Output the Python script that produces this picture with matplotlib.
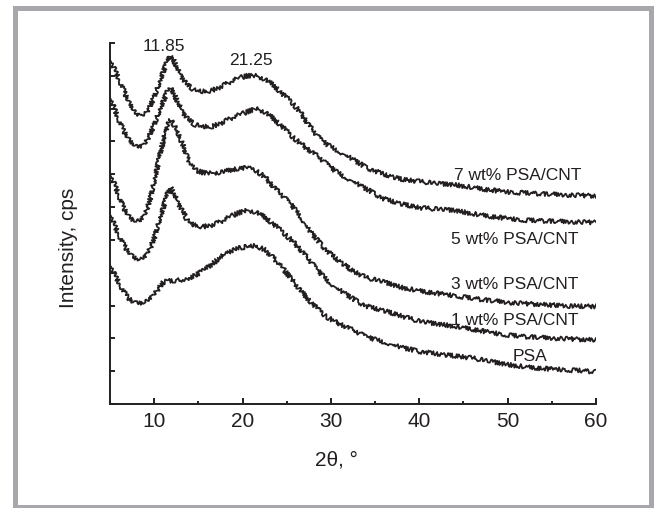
import matplotlib
matplotlib.use("Agg")
import matplotlib.pyplot as plt
from matplotlib.patches import Rectangle
from matplotlib.ticker import MultipleLocator

plt.rcParams['font.family'] = ['Liberation Sans', 'DejaVu Sans']

# ---- data (y in arbitrary offset units) ----
two_theta = [5, 5.5, 6, 6.5, 7, 7.5, 8, 8.5, 9, 9.5, 10, 10.5, 11, 11.5, 11.85,
             12.25, 12.75, 13.25, 13.75, 14.5, 15.5, 16.5, 17.5, 18.5, 19.5,
             20.5, 21.5, 22.5, 23.5, 24.5, 25.5, 26.5, 27.5, 28.5, 29.5, 30.5,
             31.5, 32.5, 34, 36, 38, 40, 42, 44, 46, 48, 50, 52, 54, 56, 58, 60]

psa_7cnt = [10.5, 10.2, 9.9, 9.6, 9.25, 9.0, 8.82, 8.78, 8.85, 9.05, 9.35, 9.7,
            10.1, 10.45, 10.6, 10.45, 10.15, 9.9, 9.72, 9.57, 9.52, 9.55, 9.66,
            9.8, 9.93, 10.0, 10.0, 9.9, 9.72, 9.45, 9.22, 8.9, 8.5, 8.15, 7.92,
            7.75, 7.6, 7.45, 7.2, 7.0, 6.85, 6.78, 6.72, 6.68, 6.6, 6.52, 6.46,
            6.43, 6.4, 6.38, 6.36, 6.34]

psa_5cnt = [9.35, 9.0, 8.65, 8.35, 8.1, 7.92, 7.84, 7.84, 7.95, 8.2, 8.5, 8.85,
            9.2, 9.52, 9.62, 9.45, 9.15, 8.88, 8.7, 8.52, 8.45, 8.45, 8.55, 8.68,
            8.8, 8.9, 9.0, 8.9, 8.7, 8.45, 8.18, 7.95, 7.74, 7.55, 7.32, 7.1,
            6.92, 6.78, 6.55, 6.25, 6.1, 5.98, 5.94, 5.9, 5.8, 5.72, 5.65, 5.6,
            5.58, 5.56, 5.55, 5.53]

psa_3cnt = [7.0, 6.7, 6.35, 6.0, 5.75, 5.6, 5.56, 5.6, 5.8, 6.2, 6.75, 7.4,
            8.0, 8.5, 8.65, 8.5, 8.2, 7.9, 7.5, 7.15, 7.05, 7.03, 7.06, 7.12,
            7.18, 7.2, 7.12, 6.92, 6.62, 6.35, 6.08, 5.72, 5.3, 4.98, 4.68,
            4.45, 4.25, 4.05, 3.85, 3.72, 3.55, 3.45, 3.37, 3.3, 3.22, 3.15,
            3.1, 3.06, 3.03, 3.0, 2.98, 2.97]

psa_1cnt = [5.8, 5.45, 5.15, 4.88, 4.65, 4.5, 4.4, 4.4, 4.5, 4.72, 5.05, 5.5,
            5.95, 6.4, 6.6, 6.4, 6.1, 5.85, 5.6, 5.45, 5.4, 5.45, 5.55, 5.7,
            5.82, 5.9, 5.85, 5.7, 5.48, 5.25, 5.0, 4.72, 4.4, 4.08, 3.78, 3.55,
            3.38, 3.2, 2.98, 2.85, 2.68, 2.52, 2.44, 2.37, 2.28, 2.18, 2.1,
            2.05, 2.02, 2.0, 1.97, 1.95]

psa_pure = [4.25, 3.95, 3.7, 3.45, 3.25, 3.12, 3.07, 3.06, 3.1, 3.2, 3.35,
            3.52, 3.7, 3.75, 3.75, 3.75, 3.77, 3.78, 3.8, 3.9, 4.05, 4.25, 4.48,
            4.64, 4.74, 4.8, 4.82, 4.7, 4.45, 4.15, 3.82, 3.48, 3.17, 2.9, 2.66,
            2.5, 2.38, 2.25, 2.05, 1.88, 1.72, 1.6, 1.53, 1.47, 1.4, 1.3, 1.2,
            1.13, 1.08, 1.05, 1.02, 0.98]

series = [psa_7cnt, psa_5cnt, psa_3cnt, psa_1cnt, psa_pure]
series_labels = ["7 wt% PSA/CNT", "5 wt% PSA/CNT", "3 wt% PSA/CNT",
                 "1 wt% PSA/CNT", "PSA"]
label_x = [51.1, 50.8, 50.8, 50.8, 52.5]
label_y = [6.95, 5.02, 3.63, 2.54, 1.45]

peak_labels = ["11.85", "21.25"]
peak_x = [11.1, 21.0]
peak_y = [10.88, 10.46]

xticks = [10, 20, 30, 40, 50, 60]

# ---- figure ----
ink = '#231f20'
fig = plt.figure(figsize=(6.54, 5.08), dpi=100)
fig.patches.append(Rectangle((15/654, 1/508), 636/654, 499.5/508,
                             transform=fig.transFigure, fill=False,
                             edgecolor='#a8a8ac', linewidth=3.6))

ax = fig.add_axes([110/654, 1 - 404/508, 486/654, 361/508])
for ys in series:
    ln, = ax.plot(two_theta, ys, color=ink, linewidth=1.3)
    ln.set_sketch_params(scale=2.2, length=0.9, randomness=2.5)

for t, x, y in zip(series_labels, label_x, label_y):
    ax.text(x, y, t, ha='center', va='center', fontsize=12.5, color=ink)
for t, x, y in zip(peak_labels, peak_x, peak_y):
    ax.text(x, y, t, ha='center', va='center', fontsize=12.5, color=ink)

ax.set_xlim(5, 60)
ax.set_ylim(0, 11)
ax.set_xticks(xticks)
ax.xaxis.set_minor_locator(MultipleLocator(5))
ax.set_yticks(range(0, 12))
ax.set_yticklabels([])
for s in ['top', 'right']:
    ax.spines[s].set_visible(False)
for s in ['left', 'bottom']:
    ax.spines[s].set_linewidth(1.4)
    ax.spines[s].set_color(ink)
ax.tick_params(axis='x', which='major', direction='in', length=4.3, width=1.4,
               color=ink, labelsize=15, labelcolor=ink, pad=6)
ax.tick_params(axis='x', which='minor', direction='in', length=2.4, width=1.4,
               color=ink)
ax.tick_params(axis='y', which='major', direction='in', length=3.6, width=1.4,
               color=ink)

fig.text(336/654, 1 - 460/508, '2θ, °', ha='center', va='center',
         fontsize=15, color=ink)
fig.text(68/654, 1 - 248/508, 'Intensity, cps', ha='center', va='center',
         rotation=90, fontsize=15, color=ink)

fig.savefig('out.png', dpi=100)
